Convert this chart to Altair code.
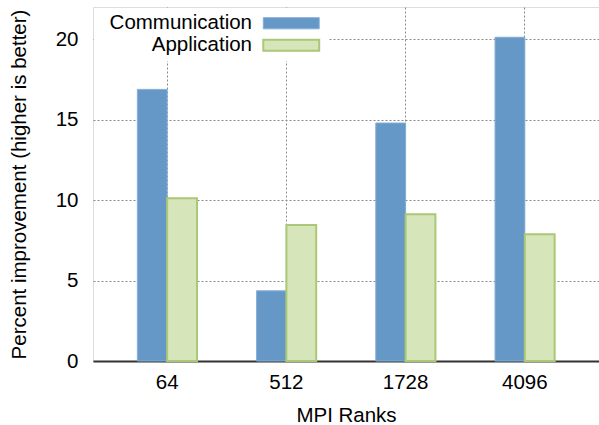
import altair as alt
import pandas as pd

# MPI rank counts and the two measured improvements (percent)
ranks = ["64", "512", "1728", "4096"]
series = ["Communication", "Application"]
communication = [16.88, 4.36, 14.79, 20.12]
application = [10.11, 8.45, 9.12, 7.87]

y_ticks = [0, 5, 10, 15, 20]
fill_colors = ["#6598c7", "#d7e6ba"]
stroke_colors = ["#86aed6", "#aac875"]

rows = []
for r, c, a in zip(ranks, communication, application):
    rows.append({"ranks": r, "series": series[0], "value": c})
    rows.append({"ranks": r, "series": series[1], "value": a})
df = pd.DataFrame(rows)

FONT = "Liberation Sans"
FS = 20.5
# wide flat rectangle used as the legend key (5:1 aspect)
key_shape = "M-5,-1H5V1H-5Z"

# key text sits on the left, right-aligned, with the swatch pushed to its right
legend = alt.Legend(
    title=None,
    orient="none",
    legendX=1,
    legendY=1,
    symbolType=key_shape,
    symbolSize=125,
    symbolStrokeWidth=2,
    symbolOffset=182,
    labelAlign="right",
    labelOffset={"expr": "-49.5"},
    labelFont=FONT,
    labelFontSize=FS,
    labelColor="#000",
    labelLimit=400,
    fillColor="white",
    padding=5,
    rowPadding=1,
)

grid_style = dict(grid=True, gridColor="#888", gridDash=[2, 2], gridWidth=1)

chart = alt.Chart(df).mark_bar().encode(
    x=alt.X(
        "ranks:N",
        sort=ranks,
        title="MPI Ranks",
        scale=alt.Scale(paddingInner=0.5, paddingOuter=0.372),
        axis=alt.Axis(
            labelAngle=0,
            labelFont=FONT,
            labelFontSize=FS,
            labelColor="#000",
            labelPadding=11,
            tickSize=0,
            domain=True,
            domainColor="#333",
            domainWidth=2,
            titleFont=FONT,
            titleFontSize=FS,
            titleFontWeight="normal",
            titleColor="#000",
            titlePadding=13,
            **grid_style,
        ),
    ),
    xOffset=alt.XOffset(
        "series:N", sort=series, scale=alt.Scale(paddingInner=0, paddingOuter=0)
    ),
    y=alt.Y(
        "value:Q",
        title="Percent improvement (higher is better)",
        scale=alt.Scale(domain=[0, 22], nice=False),
        axis=alt.Axis(
            values=y_ticks,
            labelFont=FONT,
            labelFontSize=FS,
            labelColor="#000",
            labelPadding=15,
            tickSize=0,
            domain=False,
            titleFont=FONT,
            titleFontSize=FS,
            titleFontWeight="normal",
            titleColor="#000",
            titlePadding=26,
            **grid_style,
        ),
    ),
    fill=alt.Fill(
        "series:N",
        sort=series,
        scale=alt.Scale(domain=series, range=fill_colors),
        legend=legend,
    ),
    stroke=alt.Stroke(
        "series:N",
        sort=series,
        scale=alt.Scale(domain=series, range=stroke_colors),
        legend=legend,
    ),
    strokeWidth=alt.StrokeWidth(
        "series:N",
        sort=series,
        scale=alt.Scale(domain=series, range=[1, 2]),
        legend=legend,
    ),
).properties(
    width=506,
    height=354,
    autosize=alt.AutoSizeParams(type="none"),
    padding={"left": 93, "top": 7, "right": 0, "bottom": 64},
).configure_view(
    stroke="#222", strokeWidth=1.2
).configure(background="white")

chart.save("out.html", embed_options={"renderer": "svg", "actions": False})
